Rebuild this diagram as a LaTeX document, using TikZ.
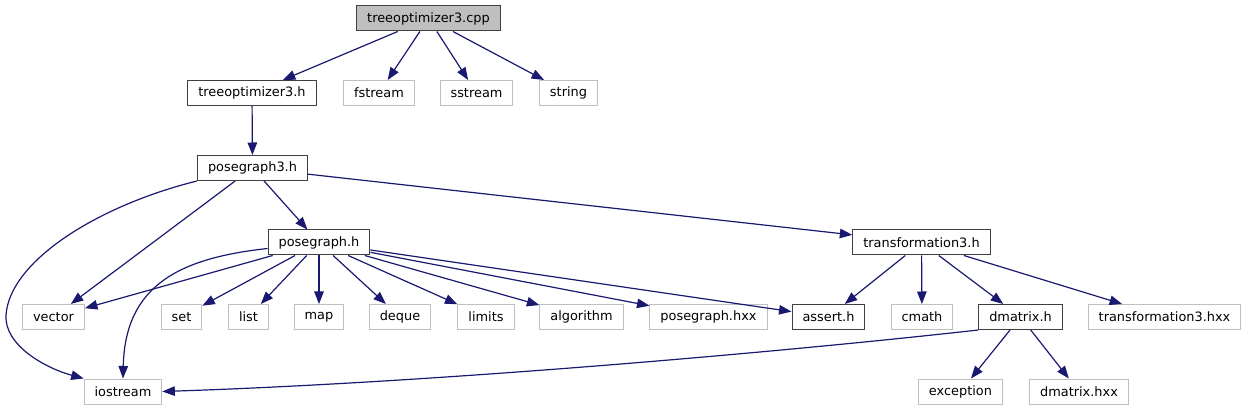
\documentclass[tikz,border=0pt]{standalone}
\usepackage{fontspec}
\setmainfont{DejaVu Sans}
\usepackage{tikz}
\usetikzlibrary{arrows.meta}
\definecolor{edgeblue}{HTML}{191970}
\definecolor{filegray}{HTML}{BFBFBF}
\definecolor{docgray}{HTML}{404040}
\tikzset{
  file/.style={draw=filegray, line width=1pt, inner xsep=10.5pt, inner ysep=0pt,
    minimum height=25pt, font=\fontsize{12.9}{15}\selectfont},
  docfile/.style={file, draw=docgray},
  rootfile/.style={docfile, fill=filegray},
  dep/.style={edgeblue, line width=1.2pt, -{Triangle[length=12.5pt,width=9.5pt]}}
}

\begin{document}
\begin{tikzpicture}[x=1pt,y=-1pt]
\useasboundingbox (0,0) rectangle (1247,411);
% узлы
\node [rootfile] (cpp) at (428.5,18.5) {treeoptimizer3.cpp};
\node [docfile] (toh) at (252,93) {treeoptimizer3.h};
\node [file] (fstream) at (379,93) {fstream};
\node [file] (sstream) at (476.5,93) {sstream};
\node [file] (string) at (568.5,93) {string};
\node [docfile] (pg3) at (252.5,168) {posegraph3.h};
\node [docfile] (pg) at (319,242.5) {posegraph.h};
\node [docfile] (tr3) at (921.5,242.5) {transformation3.h};
\node [file] (vector) at (53.5,317) {vector};
\node [file] (set) at (181.5,317) {set};
\node [file] (list) at (248.5,317) {list};
\node [file] (map) at (319,317) {map};
\node [file] (deque) at (400,317) {deque};
\node [file] (limits) at (486,317) {limits};
\node [file] (algorithm) at (581.5,317) {algorithm};
\node [file] (pghxx) at (708.5,317) {posegraph.hxx};
\node [docfile] (assert) at (828.5,317) {assert.h};
\node [file] (cmath) at (922,317) {cmath};
\node [docfile] (dm) at (1020.5,317) {dmatrix.h};
\node [file] (tr3hxx) at (1164.5,317) {transformation3.hxx};
\node [file] (iostream) at (123,391.5) {iostream};
\node [file] (exception) at (960.5,391.5) {exception};
\node [file] (dmhxx) at (1079,391.5) {dmatrix.hxx};
% связи
\foreach \t in {toh,fstream,sstream,string}
  \draw [dep] (cpp) -- (\t);
\draw [dep] (toh) -- (pg3);
\draw [dep] (pg3.south west) .. controls (100,205) and (10,260) .. (6,315)
  .. controls (4,345) and (45,368) .. (iostream.north west);
\draw [dep] (pg3) -- (vector);
\draw [dep] (pg3) -- (pg);
\draw [dep] (pg3) -- (tr3);
\draw [dep] ([yshift=-6pt]pg.west) .. controls (180,258) and (125,285) .. (iostream.north);
\foreach \t in {vector,set,list,map,deque,limits,algorithm,pghxx,assert}
  \draw [dep] (pg) -- (\t);
\foreach \t in {assert,cmath,dm,tr3hxx}
  \draw [dep] (tr3) -- (\t);
\draw [dep] (dm.south west) .. controls (800,350) and (450,382) .. (iostream.east);
\draw [dep] (dm) -- (exception);
\draw [dep] (dm) -- (dmhxx);
\end{tikzpicture}
\end{document}
